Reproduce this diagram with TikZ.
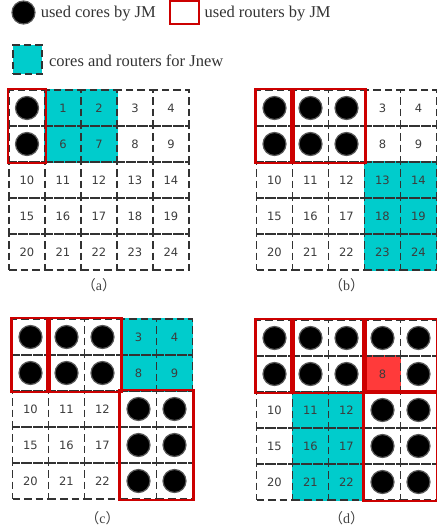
\documentclass[tikz,border=0pt]{standalone}
\usepackage{fontspec}
\setmainfont{Liberation Serif}
\newfontfamily\cellfont{DejaVu Sans}
\newfontfamily\cjk{Noto Sans CJK SC}
\usepackage{tikz}
\usetikzlibrary{positioning, fit, backgrounds}
\definecolor{jnewcyan}{RGB}{0,204,204}
\definecolor{routerred}{RGB}{204,0,0}
\definecolor{hotred}{RGB}{255,58,58}
\definecolor{gridgrey}{RGB}{50,50,50}
\definecolor{numgrey}{RGB}{60,60,60}

% one 5x5 mesh: #1 name, #2 left, #3 top, #4 numbered cells, #5 cells with a core
\newcommand\nocgrid[5]{%
  \foreach \n in {#4}{%
    \pgfmathtruncatemacro\col{mod(\n,5)}%
    \pgfmathtruncatemacro\row{div(\n,5)}%
    \node[cell] (#1\n) at ({#2+18+36*\col},{#3+18+36*\row}) {\n};
  }%
  \foreach \n in {#5}{%
    \pgfmathtruncatemacro\col{mod(\n,5)}%
    \pgfmathtruncatemacro\row{div(\n,5)}%
    \node[cell] (#1\n) at ({#2+18+36*\col},{#3+18+36*\row}) {};
    \node[core] (#1\n c) at (#1\n) {};
  }%
}

\begin{document}
\begin{tikzpicture}[x=1pt, y=-1pt,
    every node/.style={inner sep=0pt},
    cell/.style={rectangle, draw=gridgrey, line width=1.9pt,
                 dash pattern=on 7.5pt off 4pt, minimum size=36pt,
                 font=\cellfont\fontsize{11.5}{13}\selectfont, text=numgrey},
    core/.style={circle, fill=black, draw=black!65, line width=1.2pt, minimum size=23pt},
    router/.style={rectangle, draw=routerred, line width=2.8pt, inner sep=0pt},
    legend/.style={font=\fontsize{16.5}{19}\selectfont, text=black!80, anchor=west},
    caption/.style={font=\fontsize{14}{16}\selectfont, text=black!75},
  ]
  \useasboundingbox (0,0) rectangle (437,531);

  % ============ LEGEND ============
  \node[core] (legcore) at (23.5,12.5) {};
  \node[legend, right=5pt of legcore, yshift=-1.5pt] (legcoretxt) {used cores by JM};
  \node[router, minimum width=29pt, minimum height=23pt] (legrouter) at (184.5,12.5) {};
  \node[legend, right=4pt of legrouter, yshift=-1.5pt] (legroutertxt) {used routers by JM};
  \node[cell, fill=jnewcyan, minimum size=29pt] (legjnew) at (27.5,59.5) {};
  \node[legend, right=6pt of legjnew, yshift=-1.5pt] (legjnewtxt) {cores and routers for Jnew};

  % ============ (a) ============
  \nocgrid{a}{9}{90}{1,2,3,4,6,7,...,24}{0,5}
  \begin{scope}[on background layer]
    \foreach \n in {1,2,6,7}
      \fill[jnewcyan] (a\n.north west) rectangle (a\n.south east);
  \end{scope}
  \node[router, fit=(a0)(a5)] (ajm1) {};
  \node[caption, below=7pt of a22] (capa) {{\cjk（}a{\cjk）}};

  % ============ (b) ============
  \nocgrid{b}{256.5}{90}{3,4,8,9,...,24}{0,1,2,5,6,7}
  \begin{scope}[on background layer]
    \foreach \n in {13,14,18,19,23,24}
      \fill[jnewcyan] (b\n.north west) rectangle (b\n.south east);
  \end{scope}
  \node[router, fit=(b0)(b5)] (bjm1) {};
  \node[router, fit=(b1)(b7)] (bjm2) {};
  \node[caption, below=7pt of b22] (capb) {{\cjk（}b{\cjk）}};

  % ============ (c) ============
  \nocgrid{c}{12.5}{319}{3,4,8,9,10,11,12,15,16,17,20,21,22}{0,1,2,5,6,7,13,14,18,19,23,24}
  \begin{scope}[on background layer]
    \foreach \n in {3,4,8,9}
      \fill[jnewcyan] (c\n.north west) rectangle (c\n.south east);
  \end{scope}
  \node[router, fit=(c0)(c5)] (cjm1) {};
  \node[router, fit=(c1)(c7)] (cjm2) {};
  \node[router, fit=(c13)(c24)] (cjm3) {};
  \node[caption, below=11pt of c22] (capc) {{\cjk（}c{\cjk）}};

  % ============ (d) ============
  \nocgrid{d}{256.5}{320}{8,10,11,12,15,16,17,20,21,22}{0,1,2,3,4,5,6,7,9,13,14,18,19,23,24}
  \begin{scope}[on background layer]
    \foreach \n in {11,12,16,17,21,22}
      \fill[jnewcyan] (d\n.north west) rectangle (d\n.south east);
    \fill[hotred] (d8.north west) rectangle (d8.south east);
  \end{scope}
  \node[router, fit=(d0)(d5)] (djm1) {};
  \node[router, fit=(d1)(d7)] (djm2) {};
  \node[router, fit=(d3)(d9)] (djm3) {};
  \node[router, fit=(d13)(d24)] (djm4) {};
  \node[caption, below=10pt of d22] (capd) {{\cjk（}d{\cjk）}};

\end{tikzpicture}
\end{document}
